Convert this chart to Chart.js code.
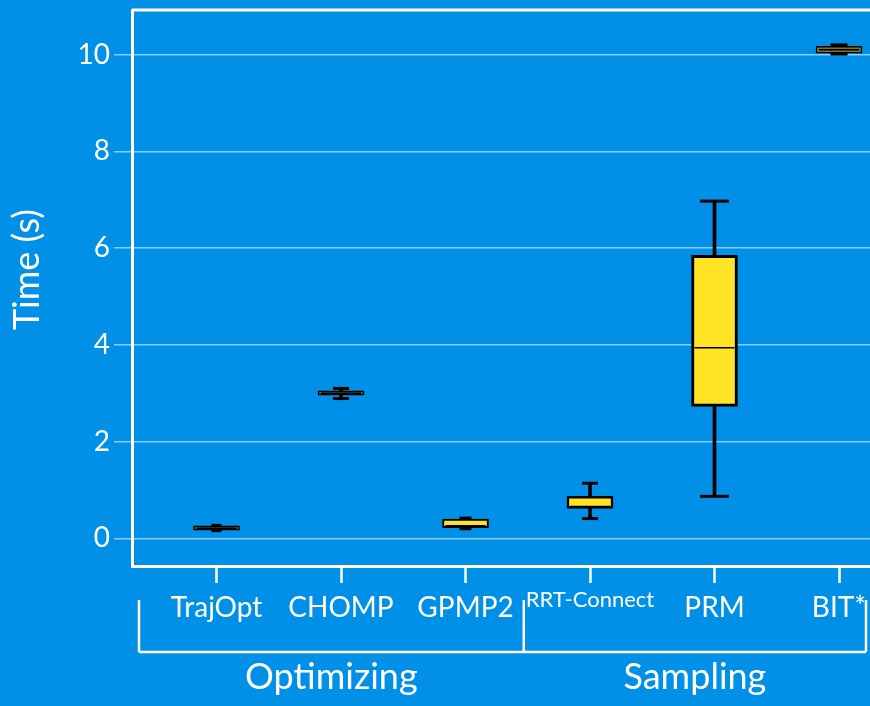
<!DOCTYPE html>
<html lang="en">
<head>
    <meta charset="UTF-8">
    <title>Planning time</title>
    <script src="https://cdn.jsdelivr.net/npm/chart.js"></script>
    <style>
        html, body { margin: 0; padding: 0; background: #0190e8; overflow: hidden; }
        #wrap { width: 870px; height: 706px; position: relative; }
    </style>
</head>
<body>
    <div id="wrap"><canvas id="timeChart"></canvas></div>

    <script>
        // planners and their groups
        const categories = ['TrajOpt', 'CHOMP', 'GPMP2', 'RRT-Connect', 'PRM', 'BIT*'];
        const groups = ['Optimizing', 'Sampling'];
        const groupSizes = [3, 3];

        // box plot values, time in seconds
        const whiskerMin = [0.16, 2.89, 0.20, 0.41, 0.87, 10.01];
        const q1 = [0.17, 2.96, 0.22, 0.62, 2.73, 10.03];
        const median = [0.21, 3.00, 0.26, 0.66, 3.94, 10.10];
        const q3 = [0.26, 3.05, 0.40, 0.87, 5.85, 10.17];
        const whiskerMax = [0.27, 3.10, 0.42, 1.14, 6.97, 10.20];

        const yTicks = [0, 2, 4, 6, 8, 10];

        // styling
        const boxColors = ['#6b5c1c', '#6b5c1c', '#ffe426', '#ffe426', '#ffe426', '#85751f'];
        const boxBorder = [1.5, 1.5, 2, 2.5, 3, 1.5];
        const capHalf = [5, 8, 6, 8, 14.5, 8.5];
        const white = '#ffffff';
        const gridColor = 'rgba(255, 255, 255, 0.55)';

        Chart.defaults.font.family = 'Lato';
        Chart.defaults.color = white;

        const idx = categories.map((c, i) => i);

        // top frame line plus the group brackets under the axis
        const groupBrackets = {
            id: 'groupBrackets',
            afterDraw(chart) {
                const { ctx, chartArea: area, scales: { x } } = chart;
                ctx.save();
                ctx.strokeStyle = white;
                ctx.lineWidth = 3;
                ctx.beginPath();
                ctx.moveTo(area.left, area.top);
                ctx.lineTo(area.right, area.top);
                ctx.stroke();

                const edges = [area.left + 7];
                let n = 0;
                groupSizes.forEach((size, g) => {
                    n += size;
                    if (g < groupSizes.length - 1) {
                        edges.push((x.getPixelForValue(n - 1) + x.getPixelForValue(n)) / 2 - 4);
                    } else {
                        edges.push(area.right - 4);
                    }
                });

                const lineY = area.bottom + 86;
                ctx.lineWidth = 2.5;
                ctx.beginPath();
                edges.forEach(e => {
                    ctx.moveTo(e, area.bottom + 34);
                    ctx.lineTo(e, lineY);
                });
                ctx.moveTo(edges[0], lineY);
                ctx.lineTo(edges[edges.length - 1], lineY);
                ctx.stroke();

                ctx.fillStyle = white;
                ctx.font = '36px Lato';
                ctx.textAlign = 'center';
                ctx.textBaseline = 'alphabetic';
                groups.forEach((name, g) => {
                    ctx.fillText(name, (edges[g] + edges[g + 1]) / 2, area.bottom + 123);
                });
                ctx.restore();
            }
        };

        const ctx = document.getElementById('timeChart').getContext('2d');
        new Chart(ctx, {
            type: 'bar',
            data: {
                datasets: [
                    {
                        // whisker stem
                        data: idx.map(i => ({ x: i, y: [whiskerMin[i], whiskerMax[i]] })),
                        backgroundColor: '#000',
                        barThickness: 3,
                        grouped: false,
                        order: 3
                    },
                    {
                        // box from q1 to q3
                        data: idx.map(i => ({ x: i, y: [q1[i], q3[i]] })),
                        backgroundColor: boxColors,
                        borderColor: '#000',
                        borderWidth: boxBorder,
                        borderSkipped: false,
                        barThickness: 46,
                        grouped: false,
                        order: 2
                    },
                    {
                        type: 'line',
                        data: idx.map(i => ({ x: i, y: median[i] })),
                        showLine: false,
                        pointStyle: 'line',
                        pointRadius: 20,
                        pointBorderColor: '#000',
                        pointBorderWidth: 1.5,
                        order: 1
                    },
                    {
                        type: 'line',
                        data: idx.map(i => ({ x: i, y: whiskerMin[i] })),
                        showLine: false,
                        pointStyle: 'line',
                        pointRadius: capHalf,
                        pointBorderColor: '#000',
                        pointBorderWidth: 3,
                        order: 1
                    },
                    {
                        type: 'line',
                        data: idx.map(i => ({ x: i, y: whiskerMax[i] })),
                        showLine: false,
                        pointStyle: 'line',
                        pointRadius: capHalf,
                        pointBorderColor: '#000',
                        pointBorderWidth: 3,
                        order: 1
                    }
                ]
            },
            options: {
                responsive: true,
                maintainAspectRatio: false,
                animation: false,
                layout: { autoPadding: false, padding: { top: 10, right: 0, left: 0, bottom: 0 } },
                plugins: {
                    legend: { display: false },
                    tooltip: { enabled: false }
                },
                scales: {
                    x: {
                        type: 'linear',
                        offset: false,
                        min: -0.679,
                        max: 5.249,
                        afterBuildTicks: scale => {
                            scale.ticks = idx.map(i => ({ value: i }));
                        },
                        afterFit: scale => {
                            scale.height = 140;
                            scale.paddingLeft = 0;
                            scale.paddingRight = 0;
                        },
                        border: { color: white, width: 3 },
                        grid: {
                            offset: false,
                            drawOnChartArea: false,
                            color: white,
                            tickColor: white,
                            tickLength: 17,
                            tickWidth: 2.5
                        },
                        ticks: {
                            autoSkip: false,
                            maxRotation: 0,
                            padding: 8,
                            color: white,
                            font: c => (categories[c.index] === 'RRT-Connect'
                                ? { size: 22, lineHeight: 0.85 }
                                : { size: 28, lineHeight: 1.2 }),
                            callback: v => categories[v]
                        }
                    },
                    y: {
                        min: -0.57,
                        max: 10.92,
                        afterBuildTicks: scale => {
                            scale.ticks = yTicks.map(v => ({ value: v }));
                        },
                        afterFit: scale => {
                            scale.width = 132;
                            scale.paddingTop = 0;
                            scale.paddingBottom = 0;
                        },
                        border: { color: white, width: 3 },
                        grid: {
                            color: gridColor,
                            tickColor: gridColor,
                            lineWidth: 1.5,
                            tickLength: 18
                        },
                        ticks: {
                            padding: 4,
                            color: white,
                            font: { size: 28 }
                        },
                        title: {
                            display: true,
                            text: '    Time (s)',
                            color: white,
                            font: { size: 36 },
                            padding: { top: 6, bottom: 0 }
                        }
                    }
                }
            },
            plugins: [groupBrackets]
        });
    </script>
</body>
</html>
